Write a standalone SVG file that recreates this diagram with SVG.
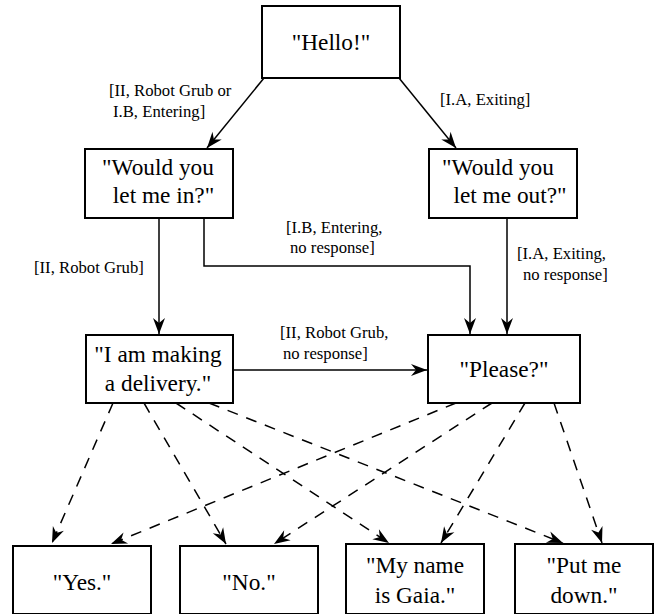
<svg xmlns="http://www.w3.org/2000/svg" width="655" height="614" viewBox="0 0 655 614">
<style>
.box{fill:#fff;stroke:#000;stroke-width:2}
.nt{font-family:"Liberation Serif","Times New Roman",serif;font-size:23.3px;fill:#000;text-anchor:middle}
.lt{font-family:"Liberation Serif","Times New Roman",serif;font-size:16.7px;fill:#000}
.e{fill:none;stroke:#000;stroke-width:1.5}
.d{fill:none;stroke:#000;stroke-width:1.5;stroke-dasharray:11,9}
</style>
<defs>
<marker id="ah" markerUnits="userSpaceOnUse" markerWidth="20" markerHeight="14" viewBox="-17 -7 18 14" refX="0" refY="0" orient="auto">
<path d="M-16,-6 L0,0 L-16,6 L-11,0 Z" fill="#000"/>
</marker>
</defs>
<rect width="655" height="614" fill="#fff"/>
<g id="connectors">
<path class="e" d="M264,78 L207,148" marker-end="url(#ah)"/>
<path class="e" d="M399,78 L456,148" marker-end="url(#ah)"/>
<path class="e" d="M159,218 L159,334" marker-end="url(#ah)"/>
<path class="e" d="M204,218 L204,266 L470,266 L470,334" marker-end="url(#ah)"/>
<path class="e" d="M507,218 L507,334" marker-end="url(#ah)"/>
<path class="e" d="M233,370 L427,370" marker-end="url(#ah)"/>
<path class="d" d="M113,403 L52,543" marker-end="url(#ah)"/>
<path class="d" d="M144,403 L226,544" marker-end="url(#ah)"/>
<path class="d" d="M176,403 L389,543" marker-end="url(#ah)"/>
<path class="d" d="M209,403 L563,543" marker-end="url(#ah)"/>
<path class="d" d="M456,403 L111,544" marker-end="url(#ah)"/>
<path class="d" d="M492,403 L274,544" marker-end="url(#ah)"/>
<path class="d" d="M525,403 L441,543" marker-end="url(#ah)"/>
<path class="d" d="M554,403 L602,543" marker-end="url(#ah)"/>
<text class="lt" x="109" y="96">[II, Robot Grub or</text>
<text class="lt" x="113" y="117">I.B, Entering]</text>
<text class="lt" x="440" y="105">[I.A, Exiting]</text>
<text class="lt" x="34" y="273">[II, Robot Grub]</text>
<text class="lt" x="286" y="233">[I.B, Entering,</text>
<text class="lt" x="290" y="253">no response]</text>
<text class="lt" x="517" y="259">[I.A, Exiting,</text>
<text class="lt" x="523" y="280">no response]</text>
<text class="lt" x="280" y="338">[II, Robot Grub,</text>
<text class="lt" x="283" y="359">no response]</text>
</g>
<g id="hello">
<rect class="box" x="262" y="6" width="138" height="72"/>
<text class="nt" x="331" y="50">"Hello!"</text>
</g>
<g id="letin">
<rect class="box" x="85" y="149" width="148" height="69"/>
<text class="nt" x="158" y="175">"Would you</text>
<text class="nt" x="163.5" y="203">let me in?"</text>
</g>
<g id="letout">
<rect class="box" x="429" y="149" width="148" height="69"/>
<text class="nt" x="498" y="175">"Would you</text>
<text class="nt" x="510" y="203">let me out?"</text>
</g>
<g id="delivery">
<rect class="box" x="86" y="335" width="147" height="68"/>
<text class="nt" x="158" y="362">"I am making</text>
<text class="nt" x="158" y="391">a delivery."</text>
</g>
<g id="please">
<rect class="box" x="428" y="335" width="152" height="68"/>
<text class="nt" x="504" y="377">"Please?"</text>
</g>
<g id="yes">
<rect class="box" x="13" y="546" width="138" height="68"/>
<text class="nt" x="82" y="590">"Yes."</text>
</g>
<g id="no">
<rect class="box" x="180" y="546" width="138" height="68"/>
<text class="nt" x="249" y="590">"No."</text>
</g>
<g id="gaia">
<rect class="box" x="346" y="544" width="138" height="70"/>
<text class="nt" x="415" y="573">"My name</text>
<text class="nt" x="415" y="603">is Gaia."</text>
</g>
<g id="putme">
<rect class="box" x="515" y="544" width="138" height="70"/>
<text class="nt" x="584" y="573">"Put me</text>
<text class="nt" x="584" y="603">down."</text>
</g>
</svg>
